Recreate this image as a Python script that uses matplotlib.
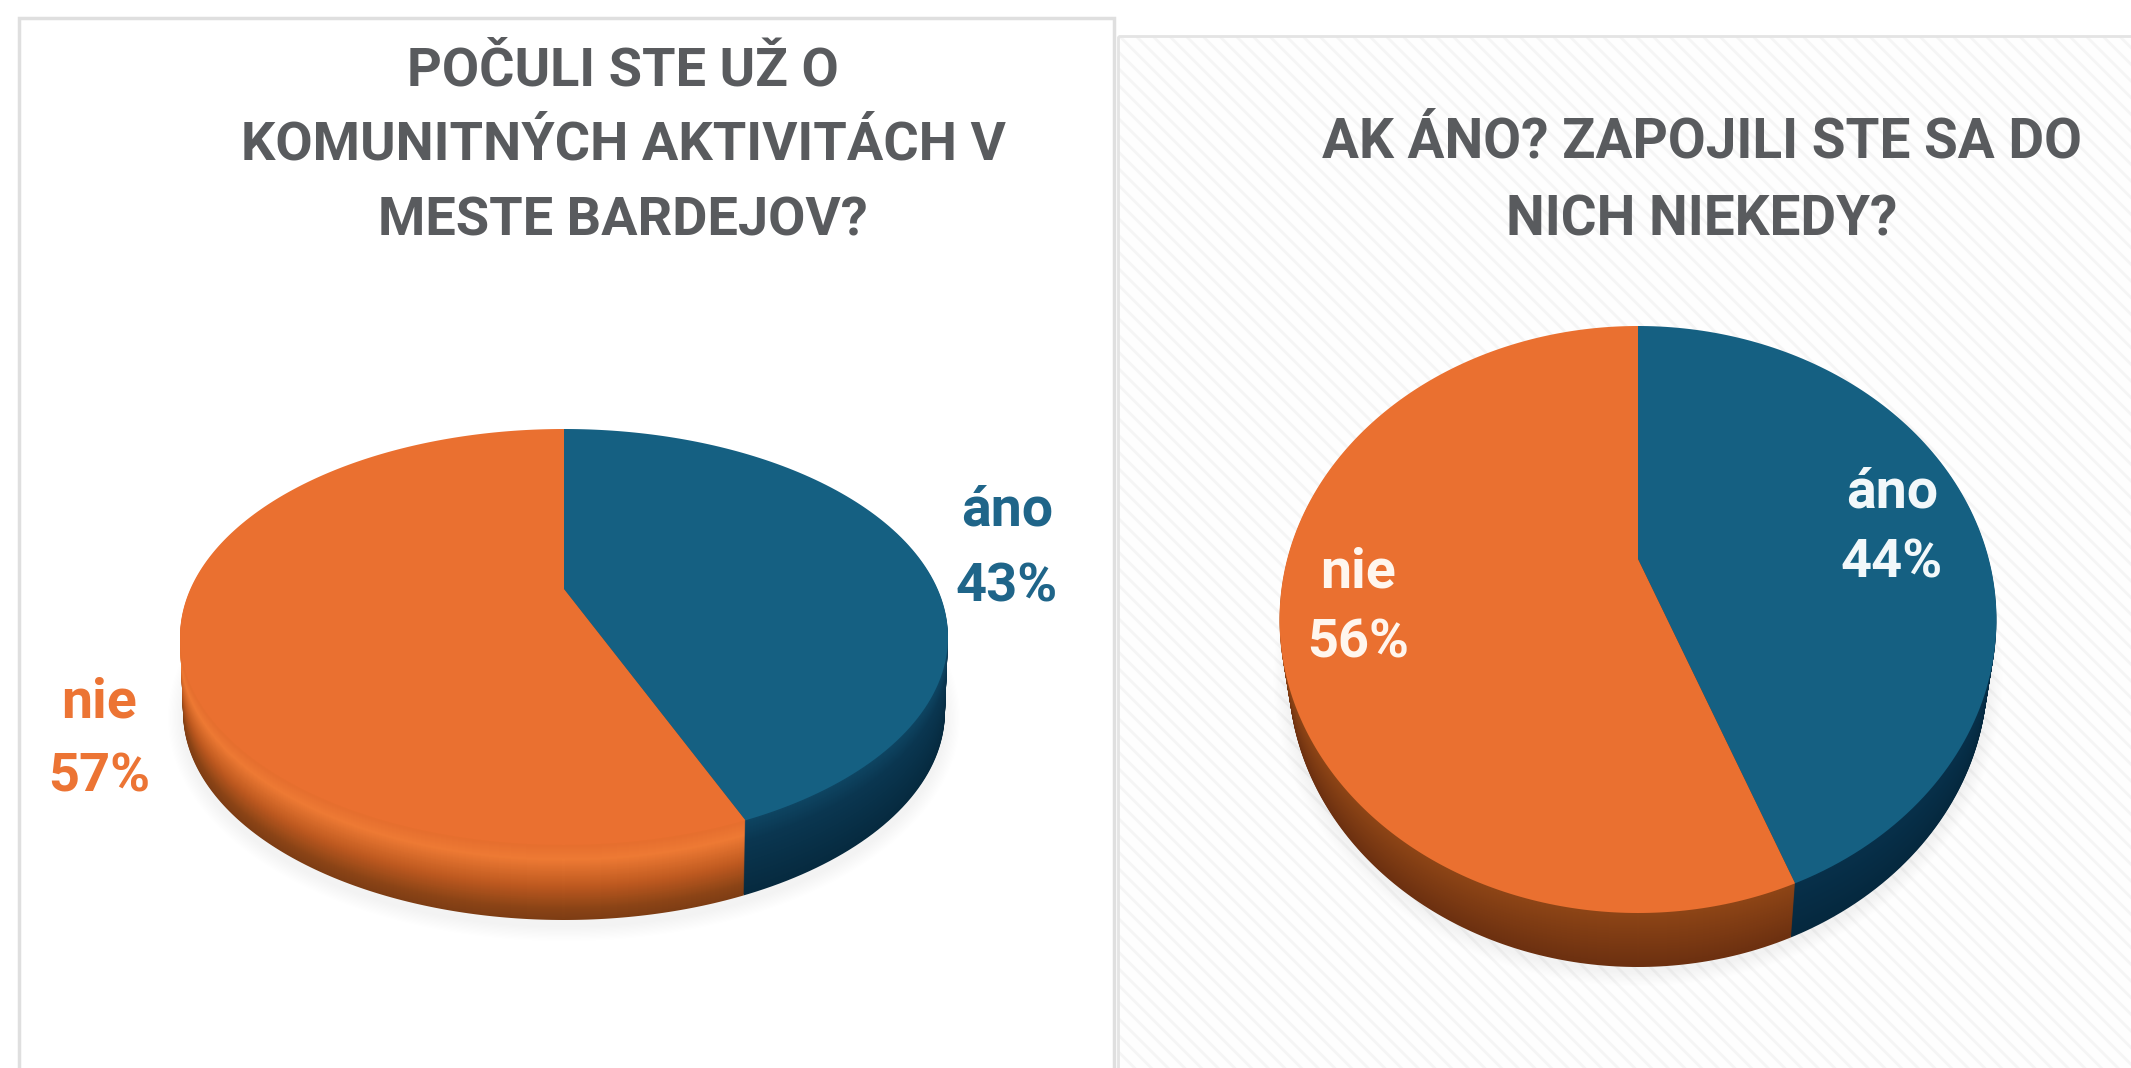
import matplotlib
matplotlib.use("Agg")
import matplotlib.pyplot as plt
from matplotlib.patches import Rectangle, Ellipse
from matplotlib.transforms import Transform, Affine2D
from matplotlib.path import Path
from matplotlib.colors import LinearSegmentedColormap
import numpy as np

# ---- data ----
categories = ["áno", "nie"]
values_left = [43, 57]
values_right = [44, 56]
title_left = ["POČULI STE UŽ O", "KOMUNITNÝCH AKTIVITÁCH V", "MESTE BARDEJOV?"]
title_right = ["AK ÁNO? ZAPOJILI STE SA DO", "NICH NIEKEDY?"]

BLUE, ORANGE = "#156082", "#EA7030"
GREY = "#595B5E"
FONT = ["Roboto", "DejaVu Sans"]

W, H = 2131, 1068
fig = plt.figure(figsize=(W / 100, H / 100), dpi=100, facecolor="white")
ax = fig.add_axes([0, 0, 1, 1])


class Perspective(Transform):
    """Maps the unit disc of a pie to a tilted disc on the canvas."""
    input_dims = output_dims = 2

    def __init__(self, cx, cy, top, bottom, half_width, warp=0.0):
        super().__init__()
        up, down = cy - top, bottom - cy
        self.k = (down - up) / (down + up)
        self.B = up * (1 + self.k)
        self.A = half_width * np.sqrt(1 - self.k ** 2)
        self.cx, self.cy, self.warp = cx, cy, warp

    def transform_non_affine(self, xy):
        xy = np.asarray(xy, float)
        r = np.hypot(xy[:, 0], xy[:, 1])
        phi = np.arctan2(xy[:, 1], xy[:, 0])
        phi = phi + self.warp * np.sin(2 * phi)
        u, v = r * np.cos(phi), r * np.sin(phi)
        w = 1 + self.k * v
        return np.column_stack([self.cx + self.A * u / w,
                                self.cy - self.B * v / w])

    def transform_path_non_affine(self, path):
        poly = path.to_polygons(Affine2D().scale(2000), closed_only=False)[0] / 2000
        return Path(self.transform_non_affine(poly))


def pie_layer(values, persp, colors, dy=0):
    wedges, _ = ax.pie(values, startangle=90, counterclock=False,
                       colors=colors, wedgeprops=dict(linewidth=0))
    tr = persp + Affine2D().translate(0, dy) + ax.transData
    for w in wedges:
        w.set_transform(tr)
        w.set_clip_on(False)


def draw_pie(values, geom, warp, depth, taper, cm_orange, cm_blue, shadow):
    cx, cy, top, bottom, hw = geom
    mid = (top + bottom) / 2
    for i in range(shadow[0]):
        g = 1 - i / shadow[0]
        ax.add_patch(Ellipse((cx, mid + depth + shadow[1]),
                             2 * hw * (1 - taper) + 30 * g, bottom - top + 30 * g,
                             fc="#808080", ec="none", alpha=0.006, zorder=1))
    n = int(depth)
    for d in range(n, 0, -1):
        f = d / n
        persp = Perspective(cx, cy, top, bottom, hw * (1 - taper * f), warp)
        pie_layer(values, persp, [cm_blue(f), cm_orange(f)], dy=d)
    pie_layer(values, Perspective(*geom, warp), [BLUE, ORANGE])


# panels
ax.add_patch(Rectangle((19, 18), 1095, 1100, fc="white", ec="#DFDFDF", lw=2.5, zorder=0))
plt.rcParams["hatch.linewidth"] = 2.0
ax.add_patch(Rectangle((1118, 36), 1100, 1100, fc="#FEFEFE", ec="#F5F5F5", lw=0, hatch="\\\\", zorder=0))
ax.add_patch(Rectangle((1118, 36), 1100, 1100, fc="none", ec="#E4E4E4", lw=2.0, zorder=0))

# side gradients, f = 0 at the upper rim, 1 at the lower rim
orange_l = LinearSegmentedColormap.from_list("ol", [(0, "#E56E2E"), (0.2, "#EE7A34"), (0.55, "#BF5A20"), (0.85, "#8C4416"), (1, "#7E3D14")])
blue_l = LinearSegmentedColormap.from_list("bl", [(0, "#0E4562"), (0.3, "#0A3650"), (1, "#062A3F")])
orange_r = LinearSegmentedColormap.from_list("or", [(0, "#8E4516"), (1, "#6C3010")])
blue_r = LinearSegmentedColormap.from_list("br", [(0, "#07304A"), (1, "#05283E")])

draw_pie(values_left, (564, 589, 429, 845, 384), 0.062, 75, 0.008, orange_l, blue_l, (12, 6))
draw_pie(values_right, (1638, 559, 326, 913, 358.5), 0.01, 54, 0.025, orange_r, blue_r, (12, 4))

ax.set_aspect("auto")
ax.set_xlim(0, W)
ax.set_ylim(H, 0)
ax.axis("off")

# titles
for line, y in zip(title_left, [85, 160, 235]):
    ax.text(623, y, line, ha="center", va="baseline", family=FONT, weight="bold", fontsize=39, color=GREY)
for line, y in zip(title_right, [157, 235]):
    ax.text(1702, y, line, ha="center", va="baseline", family=FONT, weight="bold", fontsize=39.5, color=GREY)

# data labels
def label(x, y1, y2, cat, val, color):
    ax.text(x, y1, cat, ha="center", va="baseline", family=FONT, weight="bold", fontsize=40, color=color)
    ax.text(x, y2, f"{val}%", ha="center", va="baseline", family=FONT, weight="bold", fontsize=39, color=color)

label(1007, 526, 601, categories[0], values_left[0], "#1F6589")
label(99, 717, 792, categories[1], values_left[1], "#EC7434")
label(1892, 507, 578, categories[0], values_right[0], "#F2F8FA")
label(1358, 587, 657, categories[1], values_right[1], "#FFF6EE")

fig.savefig("out.png", dpi=100, facecolor="white")
